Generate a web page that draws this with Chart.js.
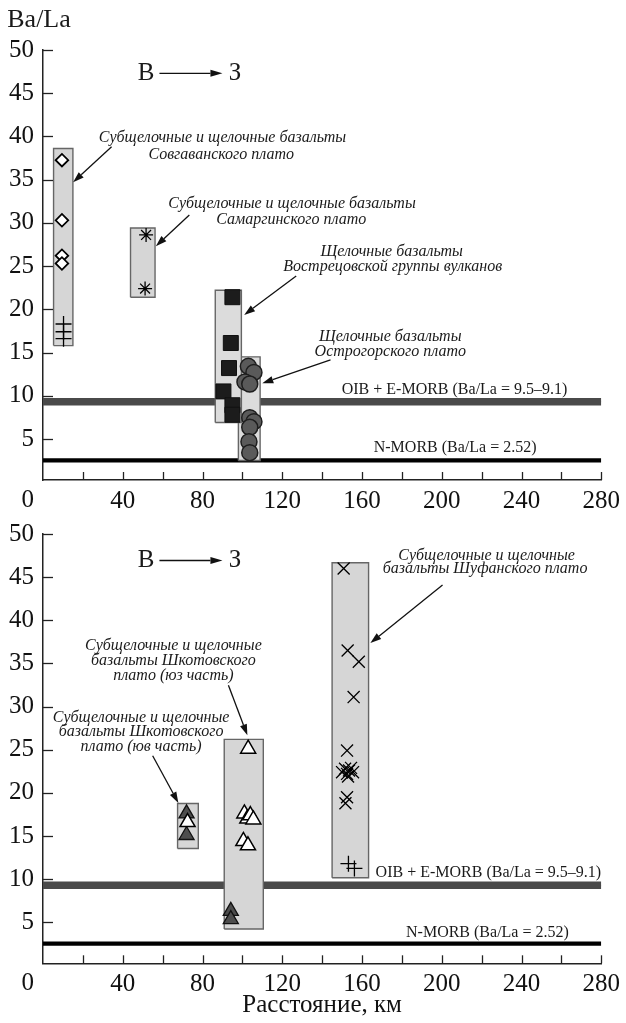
<!DOCTYPE html>
<html>
<head>
<meta charset="utf-8">
<script src="https://cdn.jsdelivr.net/npm/chart.js@4.4.1/dist/chart.umd.min.js"></script>
<style>
  html, body { margin: 0; padding: 0; background: #fff; }
  #wrap { position: relative; width: 626px; height: 1023px; overflow: hidden; }
  canvas { position: absolute; left: 0; }
  #upper { top: 0; }
  #lower { top: 510px; }
</style>
</head>
<body>
<div id="wrap">
  <canvas id="upper" width="626" height="510"></canvas>
  <canvas id="lower" width="626" height="513"></canvas>
</div>
<script>
// ---- Axes -------------------------------------------------------------
const xRange = [0, 280];          // distance, km
const yRange = [0.25, 50];        // Ba/La
const xLabelStep = 40;
const xTickStep = 20;
const yTickStep = 5;

// ---- Reference levels -------------------------------------------------
const oibEmorb = [9.5, 9.1];      // OIB + E-MORB
const nMorb = 2.52;               // N-MORB

// ---- Upper panel: fields [xFrom, xTo, yFrom, yTo] ---------------------
const boxSovgavan   = [5.3, 15.0, 15.8, 38.6];
const boxSamarga    = [43.9, 56.2, 21.4, 29.4];
const boxVostretsov = [86.4, 99.5, 6.9, 22.2];
const boxOstrogorsk = [98.0, 108.9, 2.5, 14.5];

// ---- Upper panel: samples [km, Ba/La] ---------------------------------
const sovgavanDiamonds = [[9.5, 37.25], [9.5, 30.3], [9.5, 26.2], [9.5, 25.3]];
const sovgavanPlus     = [[10.3, 18.3], [10.3, 17.4], [10.3, 16.6]];
const samargaStars     = [[51.7, 28.6], [51.2, 22.4]];
const vostretsovSquares = [[95, 21.4], [94.2, 16.1], [93.3, 13.2], [90.5, 10.5], [95, 8.9], [95, 7.8]];
const ostrogorskCircles = [[103, 13.4], [105.8, 12.7], [101.3, 11.6], [103.7, 11.35],
                           [103.7, 7.46], [105.8, 7.0], [103.7, 6.35], [103.3, 4.68], [103.7, 3.41]];

// ---- Lower panel: fields ----------------------------------------------
const boxShkotovSE = [67.5, 77.9, 13.56, 18.77];
const boxShkotovSW = [90.9, 110.5, 4.22, 26.2];
const boxShufan    = [145.0, 163.3, 10.16, 46.66];

// ---- Lower panel: samples ---------------------------------------------
const shkotovSEFilled = [[72, 17.6], [72, 15.1]];
const shkotovSEOpen   = [[72.5, 16.6]];
const shkotovSWFilled = [[94.2, 6.3], [94.2, 5.35]];
const shkotovSWOpen   = [[102.9, 25.1], [101, 17.6], [102.5, 17.0], [104, 17.4], [105.5, 16.9], [100.5, 14.4], [102.8, 13.9]];
const shufanCrosses   = [[150.8, 46.0], [152.8, 36.5], [158.4, 35.2], [155.8, 31.1], [152.5, 24.9],
                         [150.0, 22.4], [151.5, 22.8], [152.5, 22.2], [153.5, 22.6], [154.5, 22.9],
                         [155.5, 22.4], [153.0, 21.9], [152.5, 19.5], [151.7, 18.8]];
const shufanPlus      = [[153.2, 11.8], [156.2, 11.25]];

// ---- Helpers ----------------------------------------------------------
const SERIF = '"Liberation Serif", "DejaVu Serif", serif';
const pts = arr => arr.map(([x, y]) => ({ x, y }));
const rectPath = ([x0, x1, y0, y1]) => [
  { x: x0, y: y0 }, { x: x1, y: y0 }, { x: x1, y: y1 }, { x: x0, y: y1 }, { x: x0, y: y0 }
];
const hline = v => [{ x: xRange[0], y: v }, { x: xRange[1], y: v }];

function levelDatasets() {
  return [
    { type: 'line', data: hline(oibEmorb[0]), borderColor: '#4a4a4a', borderWidth: 3.9,
      pointRadius: 0, fill: false, order: 20 },
    { type: 'line', data: hline(oibEmorb[1]), borderColor: '#4a4a4a', borderWidth: 3.9,
      backgroundColor: '#4a4a4a', pointRadius: 0, fill: '-1', order: 20 },
    { type: 'line', data: hline(nMorb), borderColor: '#000', borderWidth: 4.2,
      pointRadius: 0, fill: false, order: 20 }
  ];
}
function boxDataset(b, shade) {
  return { type: 'line', data: rectPath(b), borderColor: '#666', borderWidth: 1.4,
           backgroundColor: shade || '#d6d6d6', fill: 'shape', pointRadius: 0, order: 10 };
}
function markers(data, style, radius, fill, stroke, width) {
  return { type: 'scatter', data: pts(data), pointStyle: style, pointRadius: radius,
           pointHoverRadius: radius, pointBackgroundColor: fill, pointBorderColor: stroke,
           pointBorderWidth: width, order: 1 };
}

function drawArrow(ctx, x1, y1, x2, y2, head, halfW) {
  const ang = Math.atan2(y2 - y1, x2 - x1);
  const bx = x2 - Math.cos(ang) * head, by = y2 - Math.sin(ang) * head;
  ctx.beginPath();
  ctx.moveTo(x1, y1);
  ctx.lineTo(bx, by);
  ctx.lineWidth = 1.3;
  ctx.strokeStyle = '#111';
  ctx.stroke();
  ctx.beginPath();
  ctx.moveTo(x2, y2);
  ctx.lineTo(bx + Math.sin(ang) * halfW, by - Math.cos(ang) * halfW);
  ctx.lineTo(bx - Math.sin(ang) * halfW, by + Math.cos(ang) * halfW);
  ctx.closePath();
  ctx.fillStyle = '#111';
  ctx.fill();
}

// Labels, leader arrows, the corner "0" and the inward tick marks
const annotations = {
  id: 'annotations',
  afterDraw(chart, args, opts) {
    const { ctx, chartArea, scales: { x, y } } = chart;
    ctx.save();
    // inward ticks
    ctx.strokeStyle = '#222';
    ctx.lineWidth = 1.3;
    for (let v = yTickStep; v <= yRange[1]; v += yTickStep) {
      const py = Math.round(y.getPixelForValue(v)) + 0.5;
      ctx.beginPath(); ctx.moveTo(chartArea.left, py); ctx.lineTo(chartArea.left + 10, py); ctx.stroke();
    }
    for (let v = xTickStep; v <= xRange[1]; v += xTickStep) {
      const px = Math.round(x.getPixelForValue(v)) + 0.5;
      ctx.beginPath(); ctx.moveTo(px, chartArea.bottom); ctx.lineTo(px, chartArea.bottom - 8); ctx.stroke();
    }
    // corner zero
    ctx.font = '25px ' + SERIF;
    ctx.fillStyle = '#111';
    ctx.textAlign = 'right';
    ctx.textBaseline = 'middle';
    ctx.fillText('0', chartArea.left - 9, chartArea.bottom + 20);

    (opts.texts || []).forEach(t => {
      ctx.font = t.font;
      ctx.fillStyle = '#1a1a1a';
      ctx.textAlign = 'center';
      ctx.textBaseline = 'middle';
      ctx.fillText(t.text, x.getPixelForValue(t.x), y.getPixelForValue(t.y));
    });
    (opts.arrows || []).forEach(a => {
      drawArrow(ctx, x.getPixelForValue(a[0]), y.getPixelForValue(a[1]),
                x.getPixelForValue(a[2]), y.getPixelForValue(a[3]), a[4] || 11, a[5] || 3.6);
    });
    ctx.restore();
  }
};

function scalesConfig(withTitle) {
  return {
    x: {
      type: 'linear', min: xRange[0], max: xRange[1],
      afterFit: s => { s.height = withTitle ? 59.7 : 30; },
      grid: { display: true, drawOnChartArea: false, drawTicks: false },
      border: { display: true, color: '#222', width: 1.5 },
      ticks: {
        stepSize: xTickStep, autoSkip: false, maxRotation: 0, padding: 6,
        color: '#111', font: { family: SERIF, size: 25 },
        callback: v => (v !== 0 && v % xLabelStep === 0) ? String(v) : ''
      },
      title: withTitle ? { display: true, text: 'Расстояние, км', color: '#111',
                           font: { family: SERIF, size: 25 }, padding: { top: 0, bottom: 3 } }
                       : { display: false }
    },
    y: {
      type: 'linear', min: yRange[0], max: yRange[1],
      afterFit: s => { s.width = 43; },
      grid: { display: true, drawOnChartArea: false, drawTicks: false },
      border: { display: true, color: '#222', width: 1.5 },
      ticks: {
        stepSize: yTickStep, includeBounds: false, padding: 9, color: '#111',
        font: { family: SERIF, size: 25 }
      }
    }
  };
}

const ITAL = 'italic 16px ' + SERIF;
const PLAIN = '16px ' + SERIF;
const DIR = '25px ' + SERIF;

Chart.defaults.animation = false;
Chart.defaults.font.family = SERIF;

// ---- Upper panel ------------------------------------------------------
new Chart(document.getElementById('upper'), {
  type: 'scatter',
  data: {
    datasets: [
      ...levelDatasets(),
      boxDataset(boxSovgavan),
      boxDataset(boxSamarga),
      boxDataset(boxVostretsov, '#dcdcdc'),
      boxDataset(boxOstrogorsk, '#dcdcdc'),
      markers(sovgavanDiamonds, 'rectRot', 6.3, '#fff', '#000', 1.8),
      markers(sovgavanPlus, 'cross', 8, '#000', '#000', 1.3),
      markers(samargaStars, 'star', 7, '#000', '#000', 1.3),
      markers(vostretsovSquares, 'rect', 10.6, '#1c1c1c', '#111', 1),
      markers(ostrogorskCircles, 'circle', 8, '#5a5a5a', '#1e1e1e', 1.5)
    ]
  },
  options: {
    responsive: false,
    layout: { padding: { left: 0, right: 23, top: 50, bottom: 0 } },
    scales: scalesConfig(false),
    plugins: {
      legend: { display: false },
      tooltip: { enabled: false },
      annotations: {
        texts: [
          { text: 'Ba/La', x: -2, y: 53.4, font: '26px ' + SERIF },
          { text: 'В', x: 51.7, y: 47.3, font: DIR },
          { text: 'З', x: 96.3, y: 47.3, font: DIR },
          { text: 'Субщелочные и щелочные базальты', x: 90, y: 39.83, font: ITAL },
          { text: 'Совгаванского плато', x: 89.4, y: 37.9, font: ITAL },
          { text: 'Субщелочные и щелочные базальты', x: 124.9, y: 32.2, font: ITAL },
          { text: 'Самаргинского плато', x: 124.5, y: 30.35, font: ITAL },
          { text: 'Щелочные базальты', x: 174.9, y: 26.67, font: ITAL },
          { text: 'Вострецовской группы вулканов', x: 175.4, y: 24.94, font: ITAL },
          { text: 'Щелочные базальты', x: 174.2, y: 16.77, font: ITAL },
          { text: 'Острогорского плато', x: 174.2, y: 15.1, font: ITAL },
          { text: 'OIB + E-MORB (Ba/La = 9.5–9.1)', x: 206.4, y: 10.67, font: PLAIN },
          { text: 'N-MORB (Ba/La = 2.52)', x: 206.7, y: 3.92, font: PLAIN }
        ],
        arrows: [
          [58.4, 47.3, 90, 47.3, 12, 3.5],
          [34.4, 38.8, 15.1, 34.7],
          [73.4, 30.92, 56.6, 27.3],
          [127, 23.86, 100.9, 19.35],
          [144.2, 14.14, 110, 11.44]
        ]
      }
    }
  },
  plugins: [annotations]
});

// ---- Lower panel ------------------------------------------------------
new Chart(document.getElementById('lower'), {
  type: 'scatter',
  data: {
    datasets: [
      ...levelDatasets(),
      boxDataset(boxShkotovSE),
      boxDataset(boxShkotovSW),
      boxDataset(boxShufan),
      markers(shkotovSEOpen, 'triangle', 8.7, '#fff', '#000', 1.5),
      markers(shkotovSEFilled, 'triangle', 8.7, '#4d4d4d', '#111', 1.3),
      markers(shkotovSWOpen, 'triangle', 8.7, '#fff', '#000', 1.5),
      markers(shkotovSWFilled, 'triangle', 8.7, '#4d4d4d', '#111', 1.3),
      markers(shufanCrosses, 'crossRot', 8.5, '#000', '#000', 1.3),
      markers(shufanPlus, 'cross', 8, '#000', '#000', 1.3)
    ]
  },
  options: {
    responsive: false,
    layout: { padding: { left: 0, right: 23, top: 23.3, bottom: 0 } },
    scales: scalesConfig(true),
    plugins: {
      legend: { display: false },
      tooltip: { enabled: false },
      annotations: {
        texts: [
          { text: 'В', x: 51.7, y: 46.93, font: DIR },
          { text: 'З', x: 96.3, y: 46.93, font: DIR },
          { text: 'Субщелочные и щелочные', x: 222.5, y: 47.5, font: ITAL },
          { text: 'базальты Шуфанского плато', x: 221.7, y: 45.97, font: ITAL },
          { text: 'Субщелочные и щелочные', x: 65.4, y: 37.09, font: ITAL },
          { text: 'базальты Шкотовского', x: 65.4, y: 35.27, font: ITAL },
          { text: 'плато (юз часть)', x: 65.4, y: 33.62, font: ITAL },
          { text: 'Субщелочные и щелочные', x: 49.2, y: 28.72, font: ITAL },
          { text: 'базальты Шкотовского', x: 49.2, y: 27.06, font: ITAL },
          { text: 'плато (юв часть)', x: 49.2, y: 25.32, font: ITAL },
          { text: 'OIB + E-MORB (Ba/La = 9.5–9.1)', x: 223.4, y: 10.7, font: PLAIN },
          { text: 'N-MORB (Ba/La = 2.52)', x: 222.9, y: 3.79, font: PLAIN }
        ],
        arrows: [
          [58.4, 46.93, 90, 46.93, 12, 3.5],
          [200.4, 44.1, 164.2, 37.36],
          [93, 32.46, 102.5, 26.67],
          [55, 24.3, 67.9, 18.84]
        ]
      }
    }
  },
  plugins: [annotations]
});
</script>
</body>
</html>
